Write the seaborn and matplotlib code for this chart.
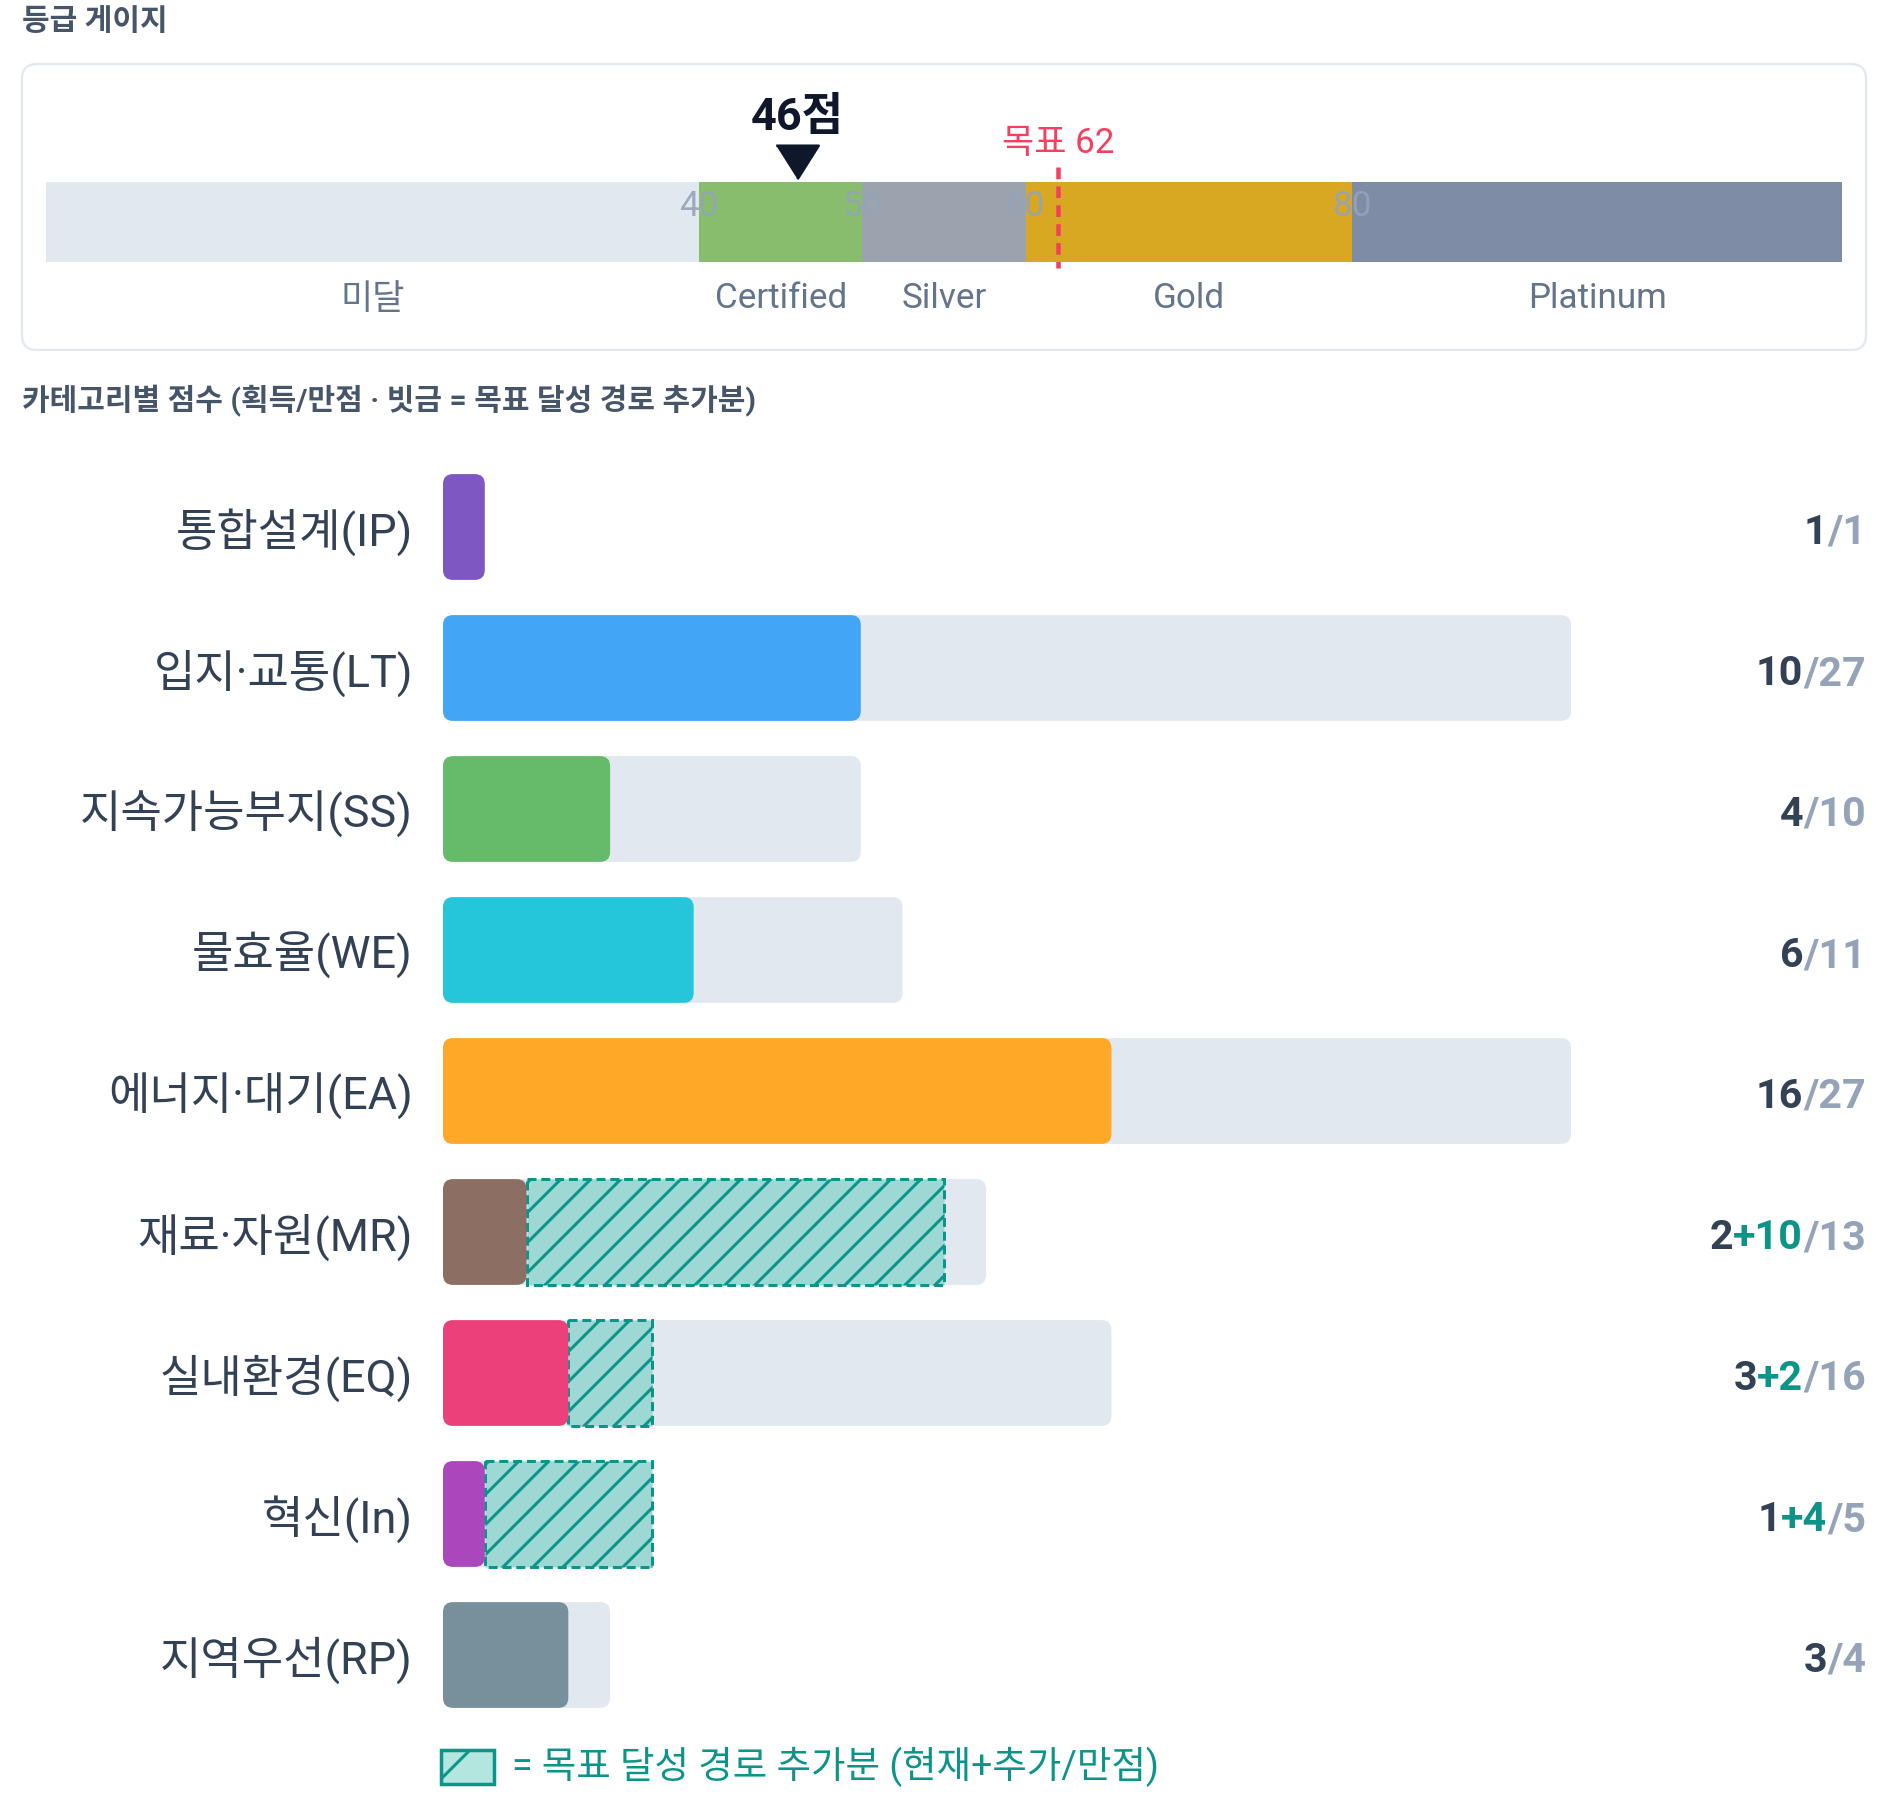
import numpy as np
import pandas as pd
import matplotlib
matplotlib.use("Agg")
import matplotlib.pyplot as plt
import matplotlib.transforms as mtransforms
from matplotlib.patches import FancyBboxPatch, Rectangle
import seaborn as sns

# ---- data ----
grade_names = ["미달", "Certified", "Silver", "Gold", "Platinum"]
grade_starts = [0, 40, 50, 60, 80]
grade_ends = [40, 50, 60, 80, 110]
grade_colors = ["#e2e8f0", "#88bd6e", "#9ba4ae", "#d8a822", "#7f8ca6"]
grade_ticks = [40, 50, 60, 80]
score_now = 46
score_target = 62

categories = ["통합설계(IP)", "입지·교통(LT)", "지속가능부지(SS)", "물효율(WE)",
              "에너지·대기(EA)", "재료·자원(MR)", "실내환경(EQ)", "혁신(In)", "지역우선(RP)"]
current_pts = [1, 10, 4, 6, 16, 2, 3, 1, 3]
extra_pts = [0, 0, 0, 0, 0, 10, 2, 4, 0]
max_pts = [1, 27, 10, 11, 27, 13, 16, 5, 4]
cat_colors = ["#7e57c2", "#42a5f5", "#66bb6a", "#26c6da", "#ffa726",
              "#8d6e63", "#ec407a", "#ab47bc", "#78909c"]

DARK = "#334155"
MUTED = "#94a3b8"
TEAL = "#0d9488"
RED = "#f43f5e"

sns.set_theme(style="white")
plt.rcParams["font.family"] = ["Roboto", "Noto Sans CJK KR", "DejaVu Sans"]
plt.rcParams["hatch.linewidth"] = 1.2

W, H, DPI = 1888, 1800, 180
fig = plt.figure(figsize=(W / DPI, H / DPI), dpi=DPI)
fig.patch.set_facecolor("white")


def fx(px):
    return px / W


def fy(py):
    return 1 - py / H


# ---- titles ----
fig.text(fx(22), fy(22), "등급 게이지", fontsize=12, fontweight="bold",
         color="#475569", ha="left", va="center")
fig.text(fx(22), fy(401), "카테고리별 점수 (획득/만점 · 빗금 = 목표 달성 경로 추가분)",
         fontsize=12, fontweight="bold", color="#475569", ha="left", va="center")

# gauge frame
frame = FancyBboxPatch((22 / DPI, (H - 350) / DPI), 1844 / DPI, 286 / DPI,
                       boxstyle=f"round,pad=0,rounding_size={15 / DPI}",
                       transform=fig.dpi_scale_trans, fc="none", ec="#e2e8f0", lw=0.9,
                       zorder=-1)
fig.patches.append(frame)

# ---- gauge ----
gax = fig.add_axes([fx(46), fy(350), 1796 / W, 286 / H])
gax.set_xlim(0, 110)
gax.set_ylim(350, 64)
gax.axis("off")
widths = np.array(grade_ends) - np.array(grade_starts)
gax.barh(y=222, width=widths, left=grade_starts, height=80, color=grade_colors,
         lw=0, edgecolor="none", zorder=1)
for t in grade_ticks:
    gax.text(t, 206, str(t), ha="center", va="center", fontsize=14, color=MUTED,
             alpha=0.9, zorder=2)
for name, s, e in zip(grade_names, grade_starts, grade_ends):
    gax.text((s + e) / 2, 299, name, ha="center", va="center", fontsize=14, color="#64748b")
tri = [(-1, 0.79), (1, 0.79), (0, -0.79)]
gax.plot([score_now], [161.5], marker=tri, ms=17, color="#0f172a", lw=0, zorder=3)
gax.text(score_now, 118, f"{score_now}점", ha="center", va="center", fontsize=18,
         fontweight="bold", color="#0f172a")
gax.plot([score_target, score_target], [167, 268], color=RED, lw=1.8,
         linestyle=(0, (2.6, 1.6)), zorder=3)
gax.text(score_target, 144, f"목표 {score_target}", ha="center", va="center",
         fontsize=14, color=RED)

# ---- category bars ----
ax = fig.add_axes([fx(443), fy(1725.5), 1128 / W, 1269 / H])
df = pd.DataFrame({"cat": categories, "cur": current_pts, "extra": extra_pts, "max": max_pts})

sns.barplot(data=df, y="cat", x="max", color="#e2e8f0", width=0.75, ax=ax,
            saturation=1, orient="h")
n_bg = len(ax.patches)
sns.barplot(data=df, y="cat", x="cur", hue="cat", palette=cat_colors, width=0.75,
            legend=False, ax=ax, saturation=1, orient="h")

ax.set_xlim(0, 27)
ax.set_ylim(len(categories) - 0.5, -0.5)

# rounded corners
x_per_px = 27 / 1128
y_per_px = len(categories) / 1269
asp = y_per_px / x_per_px
r = 10 * x_per_px
for i, p in enumerate(list(ax.patches)):
    x0, y0 = p.get_x(), p.get_y()
    w, h = p.get_width(), p.get_height()
    fb = FancyBboxPatch((x0, y0), w, h, boxstyle=f"round,pad=0,rounding_size={r}",
                        mutation_aspect=asp, fc=p.get_facecolor(), ec="none",
                        zorder=1 if i < n_bg else 3)
    p.remove()
    ax.add_patch(fb)

# target path extra points (hatched)
ypos = np.arange(len(categories))
mask = np.array(extra_pts) > 0
ax.barh(ypos[mask], np.array(extra_pts)[mask], left=np.array(current_pts)[mask],
        height=0.75, color="#9ed8d5", edgecolor=TEAL, hatch="//", lw=1.2,
        linestyle=(0, (3, 1.6)), zorder=2)

for s in ax.spines.values():
    s.set_visible(False)
ax.set_xticks([])
ax.set_xlabel("")
ax.set_ylabel("")
ax.set_yticks(ypos)
ax.set_yticklabels(categories, fontsize=18, color=DARK)
ax.tick_params(axis="y", length=0, pad=12)

# right-side score labels
trans = mtransforms.blended_transform_factory(fig.transFigure, ax.transData)
base_off = 17 * y_per_px
for i in range(len(categories)):
    parts = [(str(current_pts[i]), DARK)]
    if extra_pts[i] > 0:
        parts.append((f"+{extra_pts[i]}", TEAL))
    parts.append((f"/{max_pts[i]}", MUTED))
    prev = None
    for txt, col in reversed(parts):
        if prev is None:
            prev = ax.text(fx(1866), i + base_off, txt, transform=trans, ha="right",
                           va="baseline", fontsize=16.5, fontweight="bold", color=col)
        else:
            prev = ax.annotate(txt, xy=(0, 0), xycoords=prev, ha="right", va="bottom",
                               fontsize=16.5, fontweight="bold", color=col)

# legend swatch
sw = Rectangle((441 / DPI, (H - 1784) / DPI), 53 / DPI, 34 / DPI,
               transform=fig.dpi_scale_trans, fc="#b2e6df", ec=TEAL, hatch="/", lw=1.4)
fig.patches.append(sw)
fig.text(fx(512), fy(1767), "= 목표 달성 경로 추가분 (현재+추가/만점)", fontsize=15,
         color=TEAL, ha="left", va="center")

fig.savefig("out.png", dpi=DPI, facecolor="white")
